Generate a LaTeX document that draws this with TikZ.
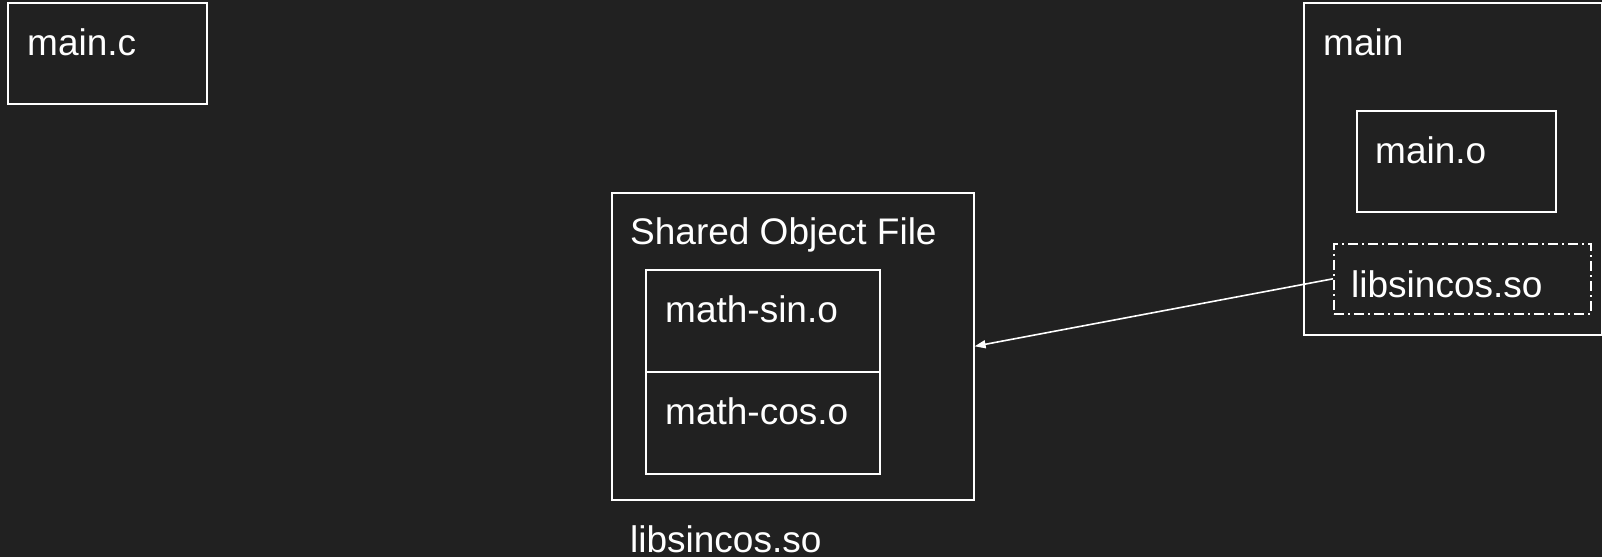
\documentclass[tikz,border=0pt]{standalone}
\usepackage{fontspec}
\setmainfont{Liberation Sans}
\usepackage{tikz}
\usetikzlibrary{arrows.meta,positioning}
\definecolor{bgdark}{RGB}{33,33,33}

\begin{document}
\begin{tikzpicture}[x=1pt,y=-1pt,>={Triangle[length=11pt,width=8pt]},
  box/.style={draw=white,line width=1.6pt,anchor=north west,inner sep=0pt},
  lbl/.style={white,anchor=base west,inner sep=0pt,font=\fontsize{37}{44}\selectfont}]
  % dark page
  \fill[bgdark] (0,0) rectangle (1602,557);
  \useasboundingbox (0,0) rectangle (1602,557);
  % source file
  \node[box,minimum width=199pt,minimum height=101pt] (mainc) at (7,2) {};
  \node[lbl] (maincl) at (27,55) {main.c};
  % shared object file and its two objects
  \node[box,minimum width=362pt,minimum height=307pt] (shared) at (611,192) {};
  \node[lbl] (sharedl) at (630,244) {Shared Object File};
  \foreach \y/\nm/\txt in {269/sin/math-sin.o, 371/cos/math-cos.o}{
    \node[box,minimum width=234pt,minimum height=102pt] (\nm) at (645,\y) {};
    \node[lbl] (\nm l) at (665,\y+53) {\txt};
  }
  \node[lbl] (libname) at (630,552) {libsincos.so};
  % executable
  \node[box,minimum width=298pt,minimum height=332pt] (exe) at (1303,2) {};
  \node[lbl] (exel) at (1323,55) {main};
  \node[box,minimum width=199pt,minimum height=101pt] (maino) at (1356,110) {};
  \node[lbl] (mainol) at (1375,163) {main.o};
  \node[box,minimum width=257pt,minimum height=70pt,
    dash pattern=on 10pt off 4pt on 2pt off 4pt] (dyn) at (1333,243) {};
  \node[lbl] (dynl) at (1351,297) {libsincos.so};
  % link to the shared object
  \draw[->,white,line width=1.6pt] (dyn.west) -- (shared.east);
\end{tikzpicture}
\end{document}
